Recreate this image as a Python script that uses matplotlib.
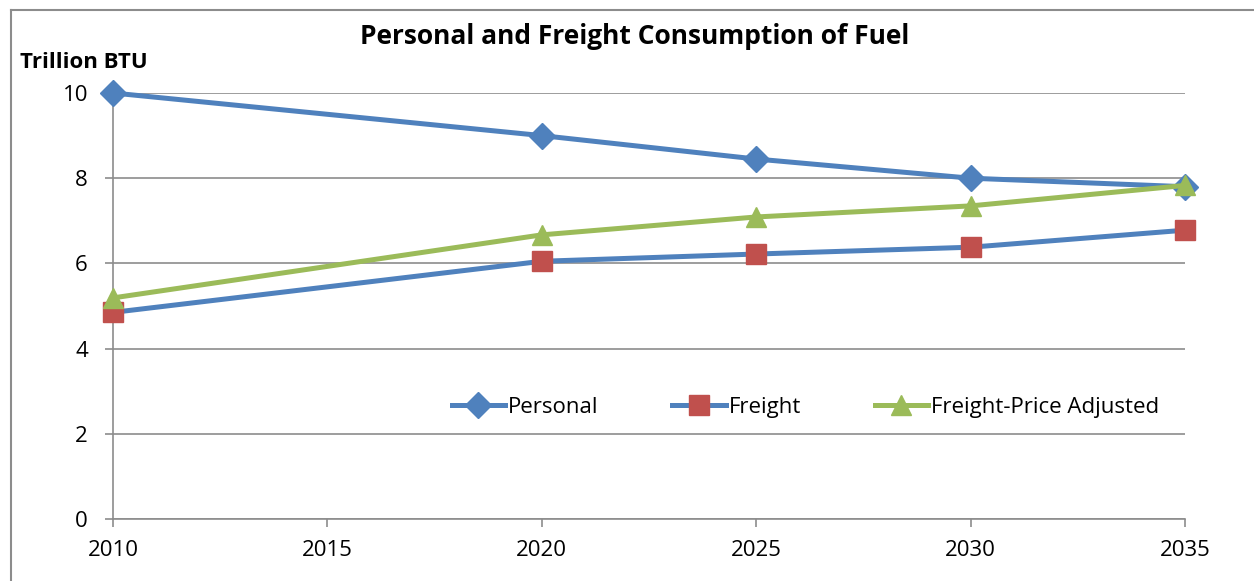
import matplotlib
matplotlib.use("Agg")
import matplotlib.pyplot as plt
from matplotlib.lines import Line2D

years = [2010, 2020, 2025, 2030, 2035]
personal = [10.0, 9.0, 8.45, 8.0, 7.8]
freight = [4.85, 6.05, 6.22, 6.38, 6.78]
freight_adj = [5.19, 6.67, 7.09, 7.35, 7.83]
x_ticks = [2010, 2015, 2020, 2025, 2030, 2035]
y_ticks = [0, 2, 4, 6, 8, 10]

BLUE = "#4F81BD"
RED = "#C0504D"
GREEN = "#9BBB59"
GRID = "#8C8C8C"

plt.rcParams["font.family"] = ["Open Sans", "DejaVu Sans"]

fig = plt.figure(figsize=(12.54, 5.81), dpi=100)
ax = fig.add_axes([113 / 1254, 1 - 519 / 581, (1185 - 113) / 1254, (519 - 93) / 581])

ax.plot(years, personal, color=BLUE, lw=3.6, marker="D", ms=13,
        mfc=BLUE, mec=BLUE, label="Personal", zorder=3, clip_on=False)
ax.plot(years, freight, color=BLUE, lw=3.6, marker="s", ms=14,
        mfc=RED, mec=RED, label="Freight", zorder=3, clip_on=False)
ax.plot(years, freight_adj, color=GREEN, lw=3.6, marker="^", ms=15,
        mfc=GREEN, mec=GREEN, label="Freight-Price Adjusted", zorder=4, clip_on=False)

ax.set_xlim(2010, 2035)
ax.set_ylim(0, 10)
ax.set_xticks(x_ticks)
ax.set_yticks(y_ticks)
ax.tick_params(axis="both", labelsize=16, colors=GRID, labelcolor="black",
               length=6, width=1.2, direction="out")
ax.tick_params(axis="x", pad=9)
ax.tick_params(axis="y", pad=12)
ax.yaxis.grid(True, color=GRID, lw=1.2)
ax.set_axisbelow(True)
for side in ("top", "right"):
    ax.spines[side].set_visible(False)
for side in ("left", "bottom"):
    ax.spines[side].set_color(GRID)
    ax.spines[side].set_linewidth(1.2)

ax.legend(loc="center", bbox_to_anchor=(0.646, 0.262), ncol=3, frameon=False,
          fontsize=16, handlelength=2.4, columnspacing=3.3, handletextpad=0.15)

fig.text(635 / 1254, 1 - 37 / 581, "Personal and Freight Consumption of Fuel",
         ha="center", va="center", fontsize=19, fontweight="bold")
fig.text(20 / 1254, 1 - 62 / 581, "Trillion BTU", ha="left", va="center",
         fontsize=16, fontweight="bold")

# chart-area border (only top and left edges visible in the crop)
fig.add_artist(Line2D([11 / 1254, 11 / 1254], [0, 1 - 10 / 581],
                      transform=fig.transFigure, color=GRID, lw=1.5))
fig.add_artist(Line2D([11 / 1254, 1], [1 - 10 / 581, 1 - 10 / 581],
                      transform=fig.transFigure, color=GRID, lw=1.5))

fig.savefig("out.png", dpi=100)
